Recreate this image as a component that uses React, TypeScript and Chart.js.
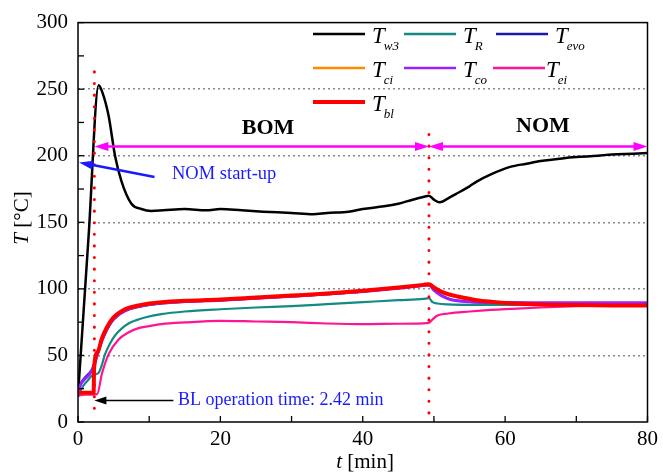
import { useEffect, useRef } from "react";
import { Chart, registerables } from "chart.js";

Chart.register(...registerables);

const SERIF = '"Liberation Serif", "Times New Roman", serif';

// ---- data (t in min, T in °C) ----
const tW3 = [0, 1.5, 2.9, 3.4, 4.3, 5.2, 6.1, 7.5, 8.9, 10.3, 12, 15, 18, 20, 23, 26, 30, 33, 35, 38, 40, 43, 45, 47, 48.5, 49.3, 50, 50.8, 52, 53, 55, 56, 58, 60.7, 63, 65, 68, 70, 73, 75, 78, 80];
const vW3 = [20, 140.5, 253, 248, 230, 200, 181, 164, 160, 158.5, 159, 160, 159, 160, 159, 158, 157, 156, 157, 158, 160, 162, 164, 167, 169, 170, 167, 165, 168, 171, 177, 180.6, 186, 191.6, 194, 196, 198, 199, 200, 201, 201.5, 202];

const tR = [0, 0.5, 1, 1.5, 2, 2.9, 3.3, 3.8, 4.5, 5.2, 6.2, 7.1, 8.2, 9.4, 11.7, 15, 20, 25, 30, 35, 40, 45, 48.5, 49.3, 49.8, 50.5, 52, 55, 60, 65, 70, 80];
const vR = [20, 25, 29, 32, 35, 37, 42, 51, 59, 65, 70.5, 74, 76.5, 78.5, 81, 83, 84.7, 86, 87, 88.5, 90, 91.5, 92.5, 93, 90, 89, 88.3, 88, 88, 87.9, 87.8, 87.5];

const tEvo = [0, 0.3, 0.9, 1.9, 2.8, 3.35, 4.75, 6.6, 8.5, 10, 11.7, 15, 20, 30, 40, 45, 48.5, 49.3, 50, 51, 52, 53, 55, 58, 60, 65, 70, 80];
const vEvo = [21, 28, 33, 39, 52, 61, 75.5, 83.5, 86.5, 88, 89, 90.3, 91.3, 94.3, 98, 100.5, 102.5, 103, 99, 95.2, 92.8, 91.4, 90.2, 89.6, 89.4, 89.2, 89.1, 89];

const tCi = [0, 1, 2.2, 2.3, 2.8, 3.35, 4.75, 6.6, 8.5, 10, 11.7, 15, 20, 25, 30, 35, 40, 45, 48.5, 49.3, 50, 51, 52, 54, 56, 58, 60, 63, 66, 70, 75, 80];
const vCi = [21, 21.5, 22, 38, 51, 62, 76.5, 84, 87, 88.5, 89.5, 90.5, 91.6, 93, 94.5, 96, 98, 100.6, 102.6, 103, 100.6, 97.6, 95.6, 93, 91.2, 90, 89.2, 88.4, 88, 87.7, 87.5, 87.4];

const tCo = [0, 0.3, 0.9, 1.5, 2.1, 2.8, 3.35, 4.75, 6.6, 8.5, 10, 11.7, 15, 20, 30, 40, 45, 48.5, 49.3, 50, 51, 52, 53, 55, 58, 60, 65, 70, 80];
const vCo = [19, 27, 32, 35, 40, 52, 61, 75.5, 83.5, 86.8, 88.3, 89.3, 90.5, 91.5, 94.5, 98, 100.5, 102.5, 103, 99, 95, 92.5, 91.2, 90.3, 89.8, 89.7, 89.6, 89.5, 89.5];

const tEi = [0, 1, 2.7, 3.35, 4.3, 5.7, 7, 8.5, 10, 11.7, 15, 20, 25, 30, 35, 40, 45, 49.3, 49.8, 50.5, 52, 55, 58, 61, 65, 70, 75, 80];
const vEi = [20, 20.5, 21, 36, 51, 62, 67, 70.5, 72, 73.5, 74.8, 76, 75.5, 75, 74, 73.5, 73.8, 74.5, 77, 80, 81.5, 83, 84.2, 85, 86, 87, 87.5, 87.7];

const tBl = [0, 1, 2.2, 2.25, 2.8, 3.35, 4.75, 6.6, 8.5, 10, 11.7, 15, 20, 25, 30, 35, 40, 45, 48.5, 49.3, 50, 51, 52, 54, 56, 58, 60, 63, 66, 70, 75, 80];
const vBl = [22, 22, 22, 40, 53, 62.7, 77, 84.7, 87.5, 89, 90, 91, 92, 93.5, 95, 96.5, 98.5, 101, 103, 103.5, 101, 98, 96, 93.5, 91.5, 90.3, 89.4, 88.6, 88.1, 87.8, 87.6, 87.5];

const xTicks = [0, 20, 40, 60, 80];
const yTicks = [0, 50, 100, 150, 200, 250, 300];

const blTime = 2.3;
const nomSwitch = 49.3;
const phaseT = 207;

const SERIES = [
  { main: "T", sub: "w3", t: tW3, v: vW3, color: "#000000", width: 2.5, order: 6 },
  { main: "T", sub: "R", t: tR, v: vR, color: "#138a84", width: 2.2, order: 4 },
  { main: "T", sub: "evo", t: tEvo, v: vEvo, color: "#1a1aa6", width: 2.2, order: 3 },
  { main: "T", sub: "ci", t: tCi, v: vCi, color: "#ff8a00", width: 2.5, order: 2 },
  { main: "T", sub: "co", t: tCo, v: vCo, color: "#9a22ff", width: 3, order: 1 },
  { main: "T", sub: "ei", t: tEi, v: vEi, color: "#ff1493", width: 2.2, order: 5 },
  { main: "T", sub: "bl", t: tBl, v: vBl, color: "#ff0000", width: 4, order: 0 },
];

function arrowHead(ctx: CanvasRenderingContext2D, x1: number, y1: number, x2: number, y2: number, len: number, half: number, color: string) {
  const a = Math.atan2(y2 - y1, x2 - x1);
  ctx.save();
  ctx.fillStyle = color;
  ctx.beginPath();
  ctx.moveTo(x2, y2);
  ctx.lineTo(x2 - len * Math.cos(a) + half * Math.sin(a), y2 - len * Math.sin(a) - half * Math.cos(a));
  ctx.lineTo(x2 - len * Math.cos(a) - half * Math.sin(a), y2 - len * Math.sin(a) + half * Math.cos(a));
  ctx.closePath();
  ctx.fill();
  ctx.restore();
}

function line(ctx: CanvasRenderingContext2D, x1: number, y1: number, x2: number, y2: number, color: string, w: number) {
  ctx.save();
  ctx.strokeStyle = color;
  ctx.lineWidth = w;
  ctx.beginPath();
  ctx.moveTo(x1, y1);
  ctx.lineTo(x2, y2);
  ctx.stroke();
  ctx.restore();
}

function subLabel(ctx: CanvasRenderingContext2D, x: number, yb: number, main: string, sub: string) {
  ctx.save();
  ctx.fillStyle = "#000";
  ctx.textBaseline = "alphabetic";
  ctx.textAlign = "left";
  ctx.font = `italic 23px ${SERIF}`;
  ctx.fillText(main, x, yb);
  const w = ctx.measureText(main).width;
  ctx.font = `italic 13px ${SERIF}`;
  ctx.fillText(sub, x + w - 1, yb + 7);
  ctx.restore();
}

const decorPlugin = {
  id: "decor",
  afterDatasetsDraw(chart: any) {
    const { ctx, chartArea: ca, scales } = chart;
    const xs = scales.x;
    const ys = scales.y;
    const px = (v: number) => xs.getPixelForValue(v);
    const py = (v: number) => ys.getPixelForValue(v);

    // frame
    ctx.save();
    ctx.strokeStyle = "#000";
    ctx.lineWidth = 1.5;
    ctx.strokeRect(ca.left, ca.top, ca.right - ca.left, ca.bottom - ca.top);
    // inward ticks
    ctx.lineWidth = 1.3;
    for (let v = 0; v <= 80; v += 10) {
      const x = px(v);
      ctx.beginPath();
      ctx.moveTo(x, ca.bottom);
      ctx.lineTo(x, ca.bottom - 6);
      ctx.stroke();
    }
    for (let v = 0; v <= 300; v += 25) {
      const y = py(v);
      ctx.beginPath();
      ctx.moveTo(ca.left, y);
      ctx.lineTo(ca.left + 6, y);
      ctx.stroke();
    }
    ctx.restore();

    // red dotted vertical lines
    ctx.save();
    ctx.strokeStyle = "#ff0000";
    ctx.lineWidth = 3;
    ctx.lineCap = "round";
    ctx.setLineDash([0.1, 11.5]);
    ctx.beginPath();
    ctx.moveTo(px(blTime), py(263));
    ctx.lineTo(px(blTime), py(5));
    ctx.moveTo(px(nomSwitch), py(216));
    ctx.lineTo(px(nomSwitch), py(5));
    ctx.stroke();
    ctx.restore();

    // magenta phase arrows
    const mag = "#ff00ff";
    const yA = py(phaseT);
    const xa = px(blTime), xb = px(nomSwitch), xc = px(80);
    line(ctx, xa + 8, yA, xb - 8, yA, mag, 2.5);
    line(ctx, xb + 8, yA, xc - 8, yA, mag, 2.5);
    arrowHead(ctx, xb, yA, xa, yA, 14, 4.5, mag);
    arrowHead(ctx, xa, yA, xb, yA, 14, 4.5, mag);
    arrowHead(ctx, xc, yA, xb, yA, 14, 4.5, mag);
    arrowHead(ctx, xb, yA, xc, yA, 14, 4.5, mag);

    ctx.save();
    ctx.fillStyle = "#000";
    ctx.font = `bold 22px ${SERIF}`;
    ctx.textAlign = "center";
    ctx.textBaseline = "middle";
    ctx.fillText("BOM", 268, 128);
    ctx.fillText("NOM", 543, 126);
    ctx.restore();

    // NOM start-up arrow
    const blue = "#1a1aff";
    const bx1 = px(10.75), by1 = py(184), bx2 = px(0.15), by2 = py(195);
    const ang = Math.atan2(by2 - by1, bx2 - bx1);
    line(ctx, bx1, by1, bx2 - 10 * Math.cos(ang), by2 - 10 * Math.sin(ang), blue, 2.5);
    arrowHead(ctx, bx1, by1, bx2, by2, 14, 4.5, blue);
    ctx.save();
    ctx.fillStyle = blue;
    ctx.font = `18.5px ${SERIF}`;
    ctx.textAlign = "left";
    ctx.textBaseline = "middle";
    ctx.fillText("NOM start-up", 172, 174);
    ctx.restore();

    // BL operation time arrow
    const ky = py(16.2);
    line(ctx, px(13.4), ky, px(blTime) + 8, ky, "#000", 1.5);
    arrowHead(ctx, px(13.4), ky, px(blTime), ky, 12, 4, "#000");
    ctx.save();
    ctx.fillStyle = blue;
    ctx.font = `18px ${SERIF}`;
    ctx.textAlign = "left";
    ctx.textBaseline = "middle";
    ctx.fillText("BL operation time: 2.42 min", 178, 400);
    ctx.restore();

    // legend
    const cols = [
      { lx: 313, tx: 372 },
      { lx: 404, tx: 463 },
      { lx: 496, tx: 555 },
    ];
    const rows = [34, 68, 102];
    SERIES.forEach((s, i) => {
      const c = cols[i % 3];
      const r = rows[Math.floor(i / 3)];
      let lx = c.lx, tx = c.tx;
      if (i === 5) { lx = 493; tx = 546; }
      ctx.save();
      ctx.strokeStyle = s.color;
      ctx.lineWidth = i === 6 ? 4 : 2.5;
      ctx.beginPath();
      ctx.moveTo(lx, r);
      ctx.lineTo(lx + 52, r);
      ctx.stroke();
      ctx.restore();
      subLabel(ctx, tx, r + 9, s.main, s.sub);
    });

    // axis titles
    ctx.save();
    ctx.fillStyle = "#000";
    ctx.textBaseline = "middle";
    ctx.textAlign = "left";
    ctx.font = `italic 21px ${SERIF}`;
    const wt = ctx.measureText("t").width;
    ctx.font = `21px ${SERIF}`;
    const wr = ctx.measureText(" [min]").width;
    let sx = 365 - (wt + wr) / 2;
    ctx.font = `italic 21px ${SERIF}`;
    ctx.fillText("t", sx, 462);
    ctx.font = `21px ${SERIF}`;
    ctx.fillText(" [min]", sx + wt, 462);

    ctx.translate(22, 218);
    ctx.rotate(-Math.PI / 2);
    ctx.font = `italic 21px ${SERIF}`;
    const wT = ctx.measureText("T").width;
    ctx.font = `21px ${SERIF}`;
    const wC = ctx.measureText(" [°C]").width;
    sx = -(wT + wC) / 2;
    ctx.font = `italic 21px ${SERIF}`;
    ctx.fillText("T", sx, 0);
    ctx.font = `21px ${SERIF}`;
    ctx.fillText(" [°C]", sx + wT, 0);
    ctx.restore();
  },
};

export default function App() {
  const ref = useRef<HTMLCanvasElement | null>(null);

  useEffect(() => {
    if (!ref.current) return;
    const chart = new Chart(ref.current, {
      type: "line",
      data: {
        datasets: SERIES.map((s) => ({
          label: s.main + "_" + s.sub,
          data: s.t.map((t, i) => ({ x: t, y: s.v[i] })),
          borderColor: s.color,
          backgroundColor: s.color,
          borderWidth: s.width,
          pointRadius: 0,
          cubicInterpolationMode: "monotone" as const,
          order: s.order,
          fill: false,
        })),
      },
      options: {
        animation: false,
        responsive: true,
        maintainAspectRatio: false,
        layout: { padding: { left: 0, top: 15, right: 12, bottom: 0 } },
        plugins: { legend: { display: false }, tooltip: { enabled: false } },
        scales: {
          x: {
            type: "linear",
            min: 0,
            max: 80,
            afterFit: (scale: any) => { scale.height = 54; },
            afterBuildTicks: (scale: any) => { scale.ticks = xTicks.map((v) => ({ value: v })); },
            grid: { display: false, drawTicks: false },
            border: { display: false },
            ticks: { color: "#000", font: { family: SERIF, size: 21 }, padding: 5, maxRotation: 0 },
          },
          y: {
            type: "linear",
            min: 0,
            max: 300,
            afterFit: (scale: any) => { scale.width = 78; },
            afterBuildTicks: (scale: any) => { scale.ticks = yTicks.map((v) => ({ value: v })); },
            grid: {
              drawTicks: false,
              color: (c: any) => (c.tick && (c.tick.value === 0 || c.tick.value === 300) ? "rgba(0,0,0,0)" : "#8a8a8a"),
              lineWidth: 1.5,
            } as any,
            border: { display: false, dash: [2, 3] },
            ticks: { color: "#000", font: { family: SERIF, size: 21 }, padding: 10 },
          },
        },
      },
      plugins: [decorPlugin],
    });
    return () => chart.destroy();
  }, []);

  return (
    <div style={{ position: "fixed", left: 0, top: 0, width: 663, height: 476, background: "#fff" }}>
      <canvas ref={ref} />
    </div>
  );
}
